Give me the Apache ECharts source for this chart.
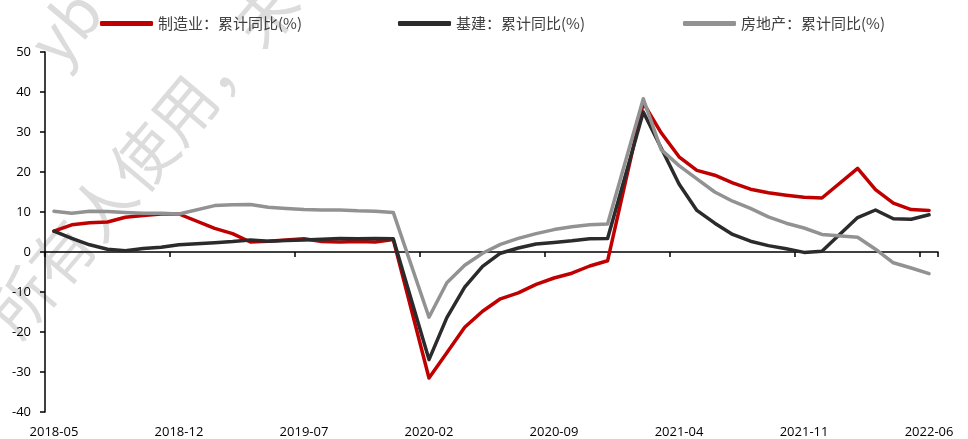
<!DOCTYPE html>
<html>
<head>
<meta charset="utf-8">
<script src="https://cdn.jsdelivr.net/npm/echarts@6/dist/echarts.min.js"></script>
<style>
  html, body { margin: 0; padding: 0; background: #fff; }
  #chart { width: 968px; height: 439px; }
</style>
</head>
<body>
<div id="chart"></div>
<script>
// 月份(1月与2月合并公布, 1月为空)
const months = [
  '2018-05', '2018-06', '2018-07', '2018-08', '2018-09', '2018-10', '2018-11', '2018-12',
  '2019-01', '2019-02', '2019-03', '2019-04', '2019-05', '2019-06', '2019-07', '2019-08',
  '2019-09', '2019-10', '2019-11', '2019-12', '2020-01', '2020-02', '2020-03', '2020-04',
  '2020-05', '2020-06', '2020-07', '2020-08', '2020-09', '2020-10', '2020-11', '2020-12',
  '2021-01', '2021-02', '2021-03', '2021-04', '2021-05', '2021-06', '2021-07', '2021-08',
  '2021-09', '2021-10', '2021-11', '2021-12', '2022-01', '2022-02', '2022-03', '2022-04',
  '2022-05', '2022-06'
]
// 制造业：累计同比(%)
const mfg = [
  5.2, 6.8, 7.3, 7.5, 8.7, 9.1, 9.5, 9.5,
  null, 5.9, 4.6, 2.5, 2.7, 3.0, 3.3, 2.6,
  2.5, 2.6, 2.5, 3.1, null, -31.5, -25.2, -18.8,
  -14.8, -11.7, -10.2, -8.1, -6.5, -5.3, -3.5, -2.2,
  null, 37.3, 29.8, 23.8, 20.4, 19.2, 17.3, 15.7,
  14.8, 14.2, 13.7, 13.5, null, 20.9, 15.6, 12.2,
  10.6, 10.4
]
// 基建：累计同比(%)
const infra = [
  5.2, 3.4, 1.8, 0.7, 0.3, 0.9, 1.2, 1.8,
  null, 2.3, 2.6, 3.0, 2.7, 2.9, 3.0, 3.2,
  3.4, 3.3, 3.4, 3.3, null, -26.9, -16.4, -8.8,
  -3.6, -0.3, 1.0, 2.0, 2.4, 2.8, 3.3, 3.4,
  null, 35.0, 26.0, 17.0, 10.4, 7.2, 4.4, 2.7,
  1.6, 0.8, -0.1, 0.2, null, 8.6, 10.5, 8.3,
  8.2, 9.3
]
// 房地产：累计同比(%)
const realty = [
  10.2, 9.7, 10.2, 10.1, 9.9, 9.7, 9.7, 9.5,
  null, 11.6, 11.8, 11.9, 11.2, 10.9, 10.6, 10.5,
  10.5, 10.3, 10.2, 9.9, null, -16.3, -7.7, -3.3,
  -0.3, 1.9, 3.4, 4.6, 5.6, 6.3, 6.8, 7.0,
  null, 38.3, 25.6, 21.6, 18.3, 15.0, 12.7, 10.9,
  8.8, 7.2, 6.0, 4.4, null, 3.7, 0.7, -2.7,
  -4.0, -5.4
]
const names = ['制造业：累计同比(%)', '基建：累计同比(%)', '房地产：累计同比(%)']
const colors = ['#c00000', '#2b2b2d', '#929292']

const myChart = echarts.init(document.querySelector('#chart'))

const legendText = { color: '#404040', fontSize: 15, fontFamily: 'Noto Sans CJK SC' }
const makeLegend = (name, left) => ({
  data: [name],
  left,
  top: 16,
  padding: 0,
  icon: 'roundRect',
  itemWidth: 53,
  itemHeight: 5,
  itemGap: 6,
  textStyle: legendText
})

const makeSeries = (name, data, color) => ({
  name,
  type: 'line',
  data,
  connectNulls: true,
  showSymbol: false,
  symbol: 'none',
  lineStyle: { width: 3.5, color, cap: 'round', join: 'round' },
  itemStyle: { color }
})

const option = {
  animation: false,
  color: colors,
  // 水印
  graphic: [
    {
      type: 'text',
      x: 1,
      y: 326,
      rotation: 0.87,
      z: -10,
      silent: true,
      style: { text: '所有人使用，未', fontSize: 63, fontFamily: 'Noto Sans CJK SC', fill: '#dcdcdc', verticalAlign: 'middle' }
    },
    {
      type: 'text',
      x: 42,
      y: 54,
      rotation: 0.87,
      z: -10,
      silent: true,
      style: { text: 'yb', fontSize: 63, fontFamily: 'Noto Sans CJK SC', fill: '#dcdcdc', verticalAlign: 'middle' }
    }
  ],
  legend: [
    makeLegend(names[0], 100),
    makeLegend(names[1], 398),
    makeLegend(names[2], 683)
  ],
  grid: { left: 45, right: 30, top: 52, bottom: 27 },
  xAxis: [
    {
      // 底部标签
      type: 'category',
      data: months,
      boundaryGap: true,
      position: 'bottom',
      axisLine: { show: false, onZero: false },
      axisTick: { show: false },
      axisLabel: {
        interval: 6,
        margin: 14,
        color: '#000',
        fontSize: 13,
        fontFamily: 'Open Sans'
      },
      splitLine: { show: false }
    },
    {
      // 0 轴线
      type: 'category',
      data: months,
      boundaryGap: true,
      position: 'bottom',
      axisLine: { show: true, onZero: true, lineStyle: { color: '#000', width: 1.5 } },
      axisTick: { show: true, interval: 6, length: 5, lineStyle: { color: '#000', width: 1.5 } },
      axisLabel: { show: false },
      splitLine: { show: false }
    }
  ],
  yAxis: {
    type: 'value',
    min: -40,
    max: 50,
    interval: 10,
    axisLine: { show: true, lineStyle: { color: '#000', width: 1.5 } },
    axisTick: { show: true, length: 5, lineStyle: { color: '#000', width: 1.5 } },
    axisLabel: { color: '#000', fontSize: 13, fontFamily: 'Open Sans', margin: 14 },
    splitLine: { show: false }
  },
  series: [
    makeSeries(names[0], mfg, colors[0]),
    makeSeries(names[1], infra, colors[1]),
    makeSeries(names[2], realty, colors[2])
  ]
}
myChart.setOption(option)
</script>
</body>
</html>
